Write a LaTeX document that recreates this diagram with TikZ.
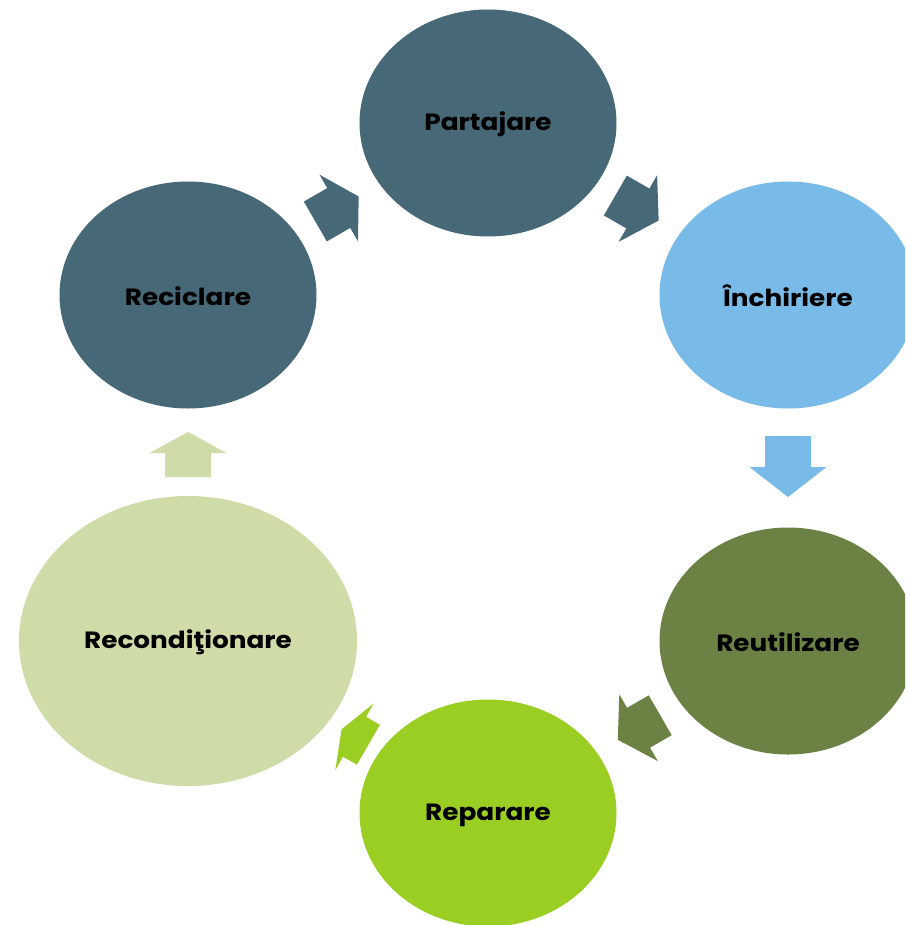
\documentclass[tikz,border=0pt]{standalone}
\usepackage{fontspec}
\setmainfont{Poppins}[FakeStretch=1.12]
\definecolor{slate}{HTML}{476877}
\definecolor{sky}{HTML}{79BBE8}
\definecolor{olive}{HTML}{6B8244}
\definecolor{lime}{HTML}{9BCE22}
\definecolor{pale}{HTML}{D0DCA8}
\tikzset{
  lbl/.style={font=\fontsize{23.5}{28}\selectfont\bfseries, text=black},
}
% block arrow: color, center x, center y, visual angle, length, head length
\newcommand{\blockarr}[6]{%
  \begin{scope}[shift={(#2,#3)}, rotate=#4]
    \fill[#1] (-#5/2,-23) -- (#5/2-#6,-23) -- (#5/2-#6,-38.5) -- (#5/2,0)
      -- (#5/2-#6,38.5) -- (#5/2-#6,23) -- (-#5/2,23) -- cycle;
  \end{scope}}
\begin{document}
\begin{tikzpicture}[x=1pt,y=-1pt]
\useasboundingbox (0,0) rectangle (905,925);
\clip (0,0) rectangle (905,925);
\fill[white] (0,0) rectangle (905,925);
% ellipses
\fill[slate] (488,123) ellipse [x radius=128.5, y radius=113.5];
\fill[slate] (188,295) ellipse [x radius=128.5, y radius=113.5];
\fill[sky] (788,295) ellipse [x radius=128.5, y radius=113.5];
\fill[olive] (788,641) ellipse [x radius=128.5, y radius=113.5];
\fill[lime] (488,813) ellipse [x radius=128.5, y radius=113.5];
\fill[pale] (188,641) ellipse [x radius=169, y radius=145];
% labels
\node[lbl] (partajare) at (488,124) {Partajare};
\node[lbl] (reciclare) at (188,296) {Reciclare};
\node[lbl] (inchiriere) at (788,296) {Închiriere};
\node[lbl] (reutilizare) at (788,642) {Reutilizare};
\node[lbl] (reparare) at (488,815) {Reparare};
\node[lbl] (recond) at (188,642) {Recondiţionare};
% arrows
\blockarr{slate}{337}{209}{30}{50}{23}
\blockarr{slate}{637}{208}{-30}{50}{24}
\blockarr{sky}{788}{466.5}{-90}{61}{30}
\blockarr{olive}{639}{727.5}{210}{49}{24}
\blockarr{lime}{355}{737}{150}{31}{15}
\blockarr{pale}{188}{454.5}{90}{45}{21}
\end{tikzpicture}
\end{document}
